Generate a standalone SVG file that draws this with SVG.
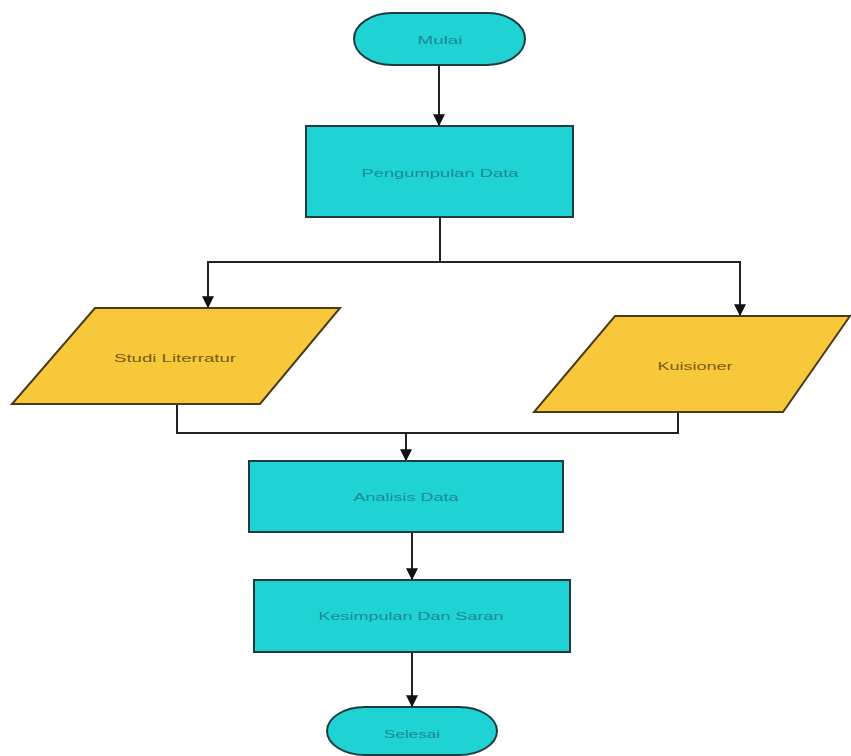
<svg xmlns="http://www.w3.org/2000/svg" width="851" height="756" viewBox="0 0 851 756">
<defs>
<style>
.c{fill:#1fd3d5;stroke:#1f3b40;stroke-width:2}
.y{fill:#f7c83a;stroke:#4a3a1a;stroke-width:2}
.tc{font-family:"Liberation Sans",Arial,sans-serif;font-size:11px;fill:#1c8a94;text-anchor:middle;dominant-baseline:central}
.ty{font-family:"Liberation Sans",Arial,sans-serif;font-size:11px;fill:#7a5a12;text-anchor:middle;dominant-baseline:central}
.l{fill:none;stroke:#222;stroke-width:2}
</style>
<marker id="a" viewBox="0 0 10 10" refX="9" refY="5" markerWidth="6" markerHeight="6" orient="auto" markerUnits="strokeWidth">
<path d="M0,0 L10,5 L0,10 z" fill="#111"/>
</marker>
</defs>
<rect width="851" height="756" fill="#fff"/>
<g id="connectors">
<path class="l" d="M439,65 V125" marker-end="url(#a)"/>
<path class="l" d="M440,217 V262 H208 V307" marker-end="url(#a)"/>
<path class="l" d="M440,262 H740 V315" marker-end="url(#a)"/>
<path class="l" d="M177,404 V433 H678 V412"/>
<path class="l" d="M406,433 V460" marker-end="url(#a)"/>
<path class="l" d="M412,532 V579" marker-end="url(#a)"/>
<path class="l" d="M412,652 V706" marker-end="url(#a)"/>
</g>
<g id="mulai">
<rect class="c" x="354" y="13" width="171" height="52" rx="38" ry="26"/>
<text class="tc" x="440" y="40" textLength="45" lengthAdjust="spacingAndGlyphs">Mulai</text>
</g>
<g id="pengumpulan">
<rect class="c" x="306" y="126" width="267" height="91"/>
<text class="tc" x="440" y="173" textLength="157" lengthAdjust="spacingAndGlyphs">Pengumpulan Data</text>
</g>
<g id="studi">
<polygon class="y" points="95,308 340,308 260,404 12,404"/>
<text class="ty" x="175" y="358" textLength="122" lengthAdjust="spacingAndGlyphs">Studi Literratur</text>
</g>
<g id="kuisioner">
<polygon class="y" points="615,316 850,316 783,412 534,412"/>
<text class="ty" x="695" y="366" textLength="75" lengthAdjust="spacingAndGlyphs">Kuisioner</text>
</g>
<g id="analisis">
<rect class="c" x="249" y="461" width="314" height="71"/>
<text class="tc" x="406" y="497" textLength="105" lengthAdjust="spacingAndGlyphs">Analisis Data</text>
</g>
<g id="kesimpulan">
<rect class="c" x="254" y="580" width="316" height="72"/>
<text class="tc" x="411" y="616" textLength="185" lengthAdjust="spacingAndGlyphs">Kesimpulan Dan Saran</text>
</g>
<g id="selesai">
<rect class="c" x="327" y="707" width="170" height="48" rx="38" ry="24"/>
<text class="tc" x="412" y="734" textLength="56" lengthAdjust="spacingAndGlyphs">Selesai</text>
</g>
</svg>
